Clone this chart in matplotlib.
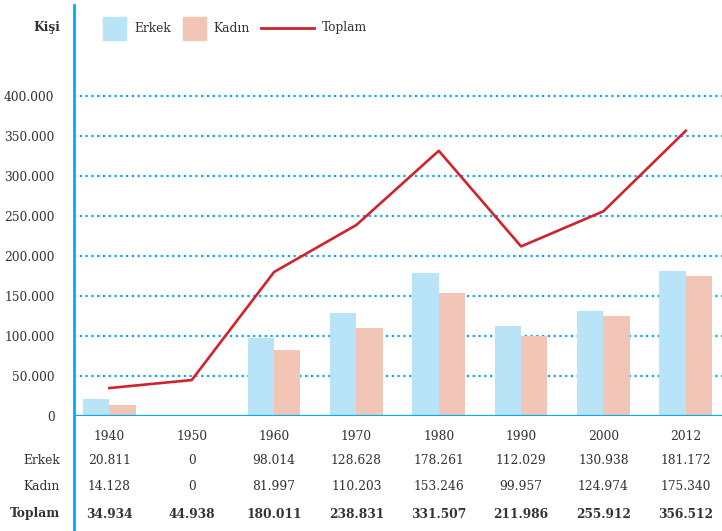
import matplotlib.pyplot as plt
import matplotlib.transforms as mtransforms
import numpy as np
from matplotlib.patches import Rectangle
from matplotlib.lines import Line2D

# Nüfus verileri (kişi)
yillar = ["1940", "1950", "1960", "1970", "1980", "1990", "2000", "2012"]
erkek = [20811, 0, 98014, 128628, 178261, 112029, 130938, 181172]
kadin = [14128, 0, 81997, 110203, 153246, 99957, 124974, 175340]
toplam = [34934, 44938, 180011, 238831, 331507, 211986, 255912, 356512]
y_ticks = [0, 50000, 100000, 150000, 200000, 250000, 300000, 350000, 400000]

mavi = '#00aeef'
erkek_renk = '#b9e4f8'
kadin_renk = '#f2c6b6'
toplam_renk = '#d1232c'
yazi = '#333333'
fs = 8.8

plt.rcParams['font.family'] = ['DejaVu Serif']
plt.rcParams['font.size'] = fs

def nokta(v):
    return f"{v:,}".replace(",", ".")

fig = plt.figure(figsize=(7.22, 5.31), dpi=100)
ax = fig.add_axes([74 / 722, 115 / 531, 648 / 722, 320 / 531])

x = np.arange(len(yillar))
w = 0.32
ax.bar(x - w / 2, erkek, width=w, color=erkek_renk, zorder=2)
ax.bar(x + w / 2, kadin, width=w, color=kadin_renk, zorder=2)
ax.plot(x, toplam, color=toplam_renk, lw=1.9, zorder=3)

ax.set_xlim(-0.43, len(yillar) - 1 + 0.44)
ax.set_ylim(0, 400000)

# noktali yatay cizgiler
for v in y_ticks[1:]:
    ax.axhline(v, color=mavi, lw=1.6, ls=(0, (1, 1.6)), zorder=1, clip_on=False)
ax.axhline(0, color=mavi, lw=1.6, zorder=4)

ax.set_yticks(y_ticks)
ax.set_yticklabels([nokta(v) for v in y_ticks], color=yazi, fontsize=fs)
ax.tick_params(axis='y', length=0, pad=14)
ax.set_xticks([])
for s in ax.spines.values():
    s.set_visible(False)

# sol dikey cizgi
fig.add_artist(Line2D([74 / 722, 74 / 722], [0, 1 - 5 / 531], color=mavi, lw=2,
                      transform=fig.transFigure))

# alt tablo
tr = mtransforms.blended_transform_factory(ax.transData, fig.transFigure)
satirlar = [("", yillar, 'normal'),
            ("Erkek", [nokta(v) for v in erkek], 'normal'),
            ("Kadın", [nokta(v) for v in kadin], 'normal'),
            ("Toplam", [nokta(v) for v in toplam], 'bold')]
satir_y = [437, 460, 486, 514]
for (ad, degerler, kalin), py in zip(satirlar, satir_y):
    fy = 1 - py / 531
    if ad:
        fig.text(60 / 722, fy, ad, ha='right', va='center', color=yazi,
                 fontsize=fs, fontweight=kalin)
    for i, d in enumerate(degerler):
        ax.text(i, fy, d, transform=tr, ha='center', va='center',
                color=yazi, fontsize=fs, fontweight=kalin, clip_on=False)

# gosterge
ly = 1 - 28 / 531
fig.text(60 / 722, ly, "Kişi", ha='right', va='center', color=yazi,
         fontsize=fs, fontweight='bold')
fig.add_artist(Rectangle((103 / 722, 1 - 40 / 531), 23 / 722, 23 / 531,
                         color=erkek_renk, transform=fig.transFigure))
fig.text(134 / 722, ly, "Erkek", ha='left', va='center', color=yazi, fontsize=fs)
fig.add_artist(Rectangle((183 / 722, 1 - 40 / 531), 23 / 722, 23 / 531,
                         color=kadin_renk, transform=fig.transFigure))
fig.text(213 / 722, ly, "Kadın", ha='left', va='center', color=yazi, fontsize=fs)
fig.add_artist(Line2D([261 / 722, 314 / 722], [ly, ly], color=toplam_renk, lw=2,
                      transform=fig.transFigure))
fig.text(322 / 722, ly, "Toplam", ha='left', va='center', color=yazi, fontsize=fs)

fig.savefig("out.png", dpi=100)
